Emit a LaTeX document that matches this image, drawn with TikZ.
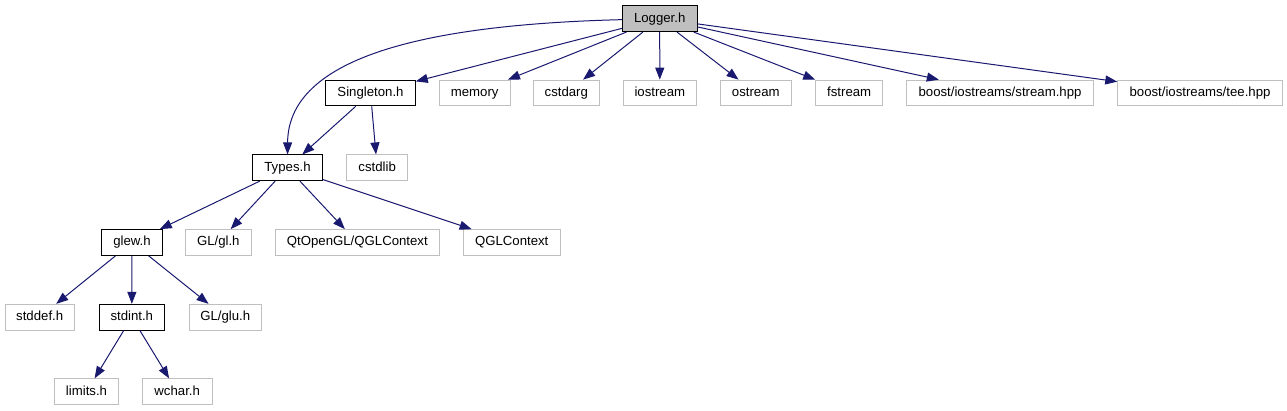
\documentclass[tikz,border=0pt]{standalone}
\usepackage{fontspec}
\setmainfont{Liberation Sans}
\usetikzlibrary{arrows.meta}
\definecolor{edgeblue}{HTML}{191970}
\definecolor{boxgray}{HTML}{BFBFBF}
\tikzset{
  file/.style={draw=black, line width=0.9pt, fill=white, inner sep=0pt, minimum height=25.8pt,
    text height=9.6pt, text depth=2.8pt, font=\fontsize{13.2}{15}\selectfont, text=black},
  sysfile/.style={file, draw=boxgray},
  current/.style={file, fill=boxgray},
  dep/.style={draw=edgeblue, line width=1pt, -{Triangle[length=12pt,width=9pt]}},
}
\begin{document}
\begin{tikzpicture}[x=1pt,y=-1pt]
\useasboundingbox (0,0) rectangle (1287,411);
\node[current, minimum width=74.7pt] (logger) at (659.7,18.7) {Logger.h};
\node[file, minimum width=89.6pt] (singleton) at (370.5,93) {Singleton.h};
\node[sysfile, minimum width=70.7pt] (memory) at (474.7,93) {memory};
\node[sysfile, minimum width=66pt] (cstdarg) at (566.3,93) {cstdarg};
\node[sysfile, minimum width=73.7pt] (iostream) at (659.8,93) {iostream};
\node[sysfile, minimum width=70.3pt] (ostream) at (755.8,93) {ostream};
\node[sysfile, minimum width=67pt] (fstream) at (849.2,93) {fstream};
\node[sysfile, minimum width=186.6pt] (stream) at (1000,93) {boost/iostreams/stream.hpp};
\node[sysfile, minimum width=164.6pt] (tee) at (1200,93) {boost/iostreams/tee.hpp};
\node[file, minimum width=69.6pt] (types) at (287.5,167.8) {Types.h};
\node[sysfile, minimum width=61pt] (cstdlib) at (377.2,167.8) {cstdlib};
\node[file, minimum width=60.6pt] (glew) at (132,242.5) {glew.h};
\node[sysfile, minimum width=65.3pt] (gl) at (218.3,242.5) {GL/gl.h};
\node[sysfile, minimum width=164pt] (qtgl) at (357.3,242.5) {QtOpenGL/QGLContext};
\node[sysfile, minimum width=96.7pt] (qgl) at (511.7,242.5) {QGLContext};
\node[sysfile, minimum width=69.3pt] (stddef) at (39.7,317.2) {stddef.h};
\node[file, minimum width=65.7pt] (stdint) at (131.8,317.2) {stdint.h};
\node[sysfile, minimum width=72.3pt] (glu) at (225.2,317.2) {GL/glu.h};
\node[sysfile, minimum width=64.4pt] (limits) at (86.5,391.7) {limits.h};
\node[sysfile, minimum width=69.7pt] (wchar) at (177.2,391.7) {wchar.h};

\draw[dep] (logger) .. controls (450,24) and (288,50) .. (types);
\draw[dep] (logger) -- (singleton);
\draw[dep] (logger) -- (memory);
\draw[dep] (logger) -- (cstdarg);
\draw[dep] (logger) -- (iostream);
\draw[dep] (logger) -- (ostream);
\draw[dep] (logger) -- (fstream);
\draw[dep] (logger) -- (stream);
\draw[dep] (logger) -- (tee);
\draw[dep] (singleton) -- (types);
\draw[dep] (singleton) -- (cstdlib);
\draw[dep] (types) -- (glew);
\draw[dep] (types) -- (gl);
\draw[dep] (types) -- (qtgl);
\draw[dep] (types) -- (qgl);
\draw[dep] (glew) -- (stddef);
\draw[dep] (glew) -- (stdint);
\draw[dep] (glew) -- (glu);
\draw[dep] (stdint) -- (limits);
\draw[dep] (stdint) -- (wchar);
\end{tikzpicture}
\end{document}
